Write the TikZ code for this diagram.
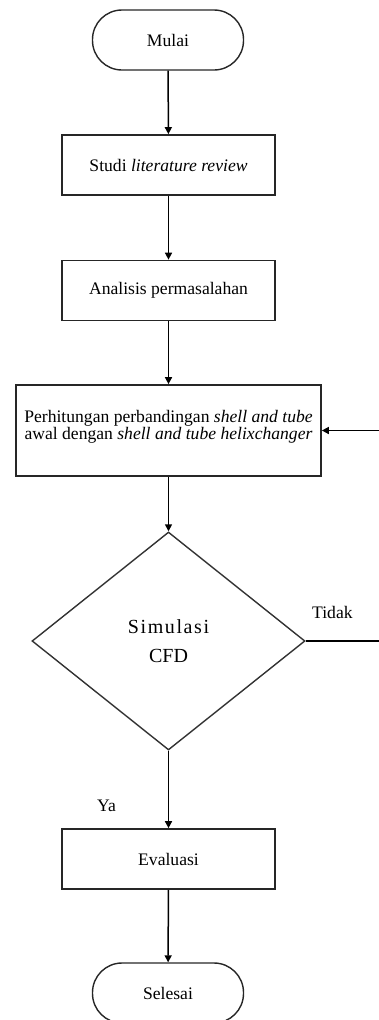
\documentclass[tikz,border=0pt]{standalone}
\usepackage{fontspec}
\setmainfont{Liberation Serif}
\usetikzlibrary{shapes.geometric,arrows.meta}
\begin{document}
\begin{tikzpicture}[x=1pt,y=-1pt,
  every node/.style={font=\fontsize{17.6}{17}\selectfont},
  term/.style={draw=black!85,line width=1.4pt,rounded corners=29.5pt,minimum width=151pt,minimum height=60pt,inner sep=0pt},
  procbox/.style={draw=black!85,line width=1.7pt,minimum width=213pt,minimum height=60pt,inner sep=0pt,align=center},
  decide/.style={draw=black!80,line width=1.4pt,diamond,minimum width=273pt,minimum height=218pt,inner sep=0pt,align=center},
  lbl/.style={font=\fontsize{17.6}{18}\selectfont,inner sep=0pt,anchor=base west},
  flow/.style={line width=1.5pt,-{Triangle[length=7pt,width=7pt]}}
]
\useasboundingbox (0,0) rectangle (379,1020);
\node[term] (mulai) at (168,40) {Mulai};
\node[procbox] (studi) at (168.5,165) {Studi \textit{literature review}};
\node[procbox] (analisis) at (168.5,290.5) {Analisis permasalahan};
\node[procbox,minimum width=305pt,minimum height=91pt] (hitung) at (168.5,430.5)
  {Perhitungan perbandingan \textit{shell and tube}\\ awal dengan \textit{shell and tube helixchanger}\\[-6pt]};
\node[decide,font=\fontsize{20}{29}\selectfont] (cfd) at (168.5,641) {\addfontfeature{LetterSpace=8}Simulasi\\ CFD};
\node[procbox] (eval) at (168.5,859) {Evaluasi};
\node[term] (selesai) at (168,993) {Selesai};
\node[lbl] (tidak) at (312,618) {Tidak};
\node[lbl] (ya) at (97,811) {Ya};
\coordinate (c1) at (382,641);
\coordinate (c2) at (382,430.5);
\draw[flow] (mulai) -- (studi);
\draw[flow] (studi) -- (analisis);
\draw[flow] (analisis) -- (hitung);
\draw[flow] (hitung) -- (cfd);
\draw[flow] (cfd) -- (eval);
\draw[flow] (eval) -- (selesai);
\draw[flow] (cfd.east) -- (c1) -- (c2) -- (hitung.east);
\end{tikzpicture}
\end{document}
